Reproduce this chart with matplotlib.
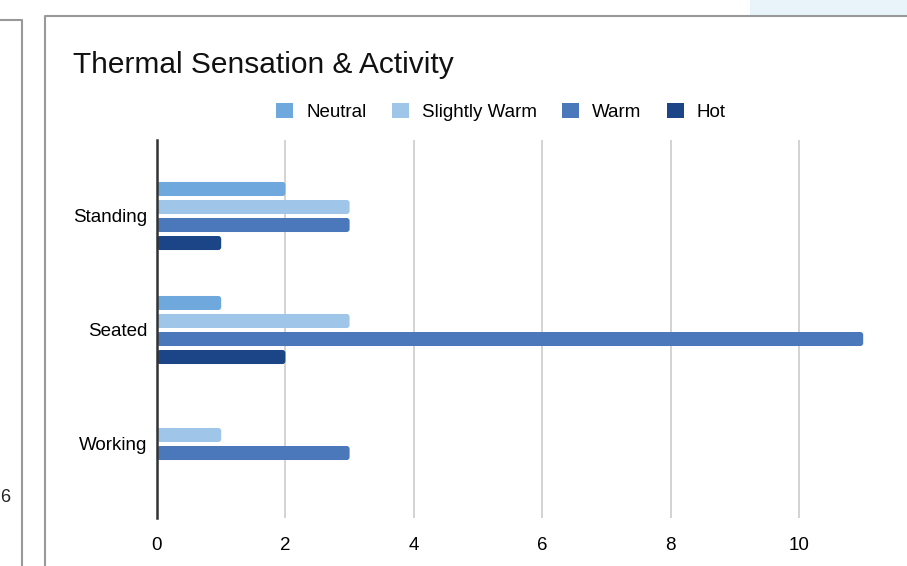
import matplotlib.pyplot as plt
from matplotlib.patches import Patch, Rectangle, FancyBboxPatch
from matplotlib.lines import Line2D
import numpy as np

plt.rcParams['font.family'] = ['Liberation Sans', 'DejaVu Sans']

activities = ['Standing', 'Seated', 'Working']
series = ['Neutral', 'Slightly Warm', 'Warm', 'Hot']
neutral = [2, 1, 0]
slightly_warm = [3, 3, 1]
warm = [3, 11, 3]
hot = [1, 2, 0]
x_ticks = [0, 2, 4, 6, 8, 10]

colors = ['#6fa8dc', '#9fc5e8', '#4a78bb', '#1c4587']

W, H = 907, 566
fig = plt.figure(figsize=(W / 100, H / 100), dpi=100)

def fx(px):
    return px / W

def fy(py):
    return 1 - py / H

# page chrome around the chart (cropped screenshot)
fig.add_artist(Rectangle((fx(750), fy(15)), fx(157), 15 / H, color='#e8f4fa', lw=0))
fig.add_artist(Line2D([fx(0), fx(22), fx(22)], [fy(20), fy(20), fy(566)], color='#999999', lw=1.5))
fig.add_artist(Line2D([fx(45), fx(45), fx(907)], [fy(566), fy(16), fy(16)], color='#999999', lw=1.5))
fig.text(fx(0), fy(497), '6', fontsize=13, ha='left', va='center', color='#222222')

ax = fig.add_axes([fx(157), fy(518), fx(880 - 157), (518 - 140) / H])

y = np.arange(len(activities))
pitch = 0.158
height = 0.123
for i, (name, vals) in enumerate(zip(series, [neutral, slightly_warm, warm, hot])):
    bars = ax.barh(y + (i - 1.5) * pitch, vals, height=height, color=colors[i], label=name, zorder=3)
    # swap plain rectangles for slightly rounded ones
    for b in bars:
        if b.get_width() == 0:
            b.remove()
            continue
        rb = FancyBboxPatch((b.get_x(), b.get_y()), b.get_width(), b.get_height(),
                            boxstyle='round,pad=0,rounding_size=0.045',
                            mutation_aspect=0.58, facecolor=colors[i], edgecolor='none', zorder=3)
        b.remove()
        ax.add_patch(rb)

ax.set_xlim(0, (880 - 157) / 64.2)
ax.set_ylim(2 + 74 / 114, -76 / 114)
ax.set_xticks(x_ticks)
ax.set_xticklabels([str(t) for t in x_ticks], fontsize=13.5)
ax.set_yticks(y)
ax.set_yticklabels(activities, fontsize=13.5)
ax.tick_params(length=0)
ax.tick_params(axis='y', pad=7)
ax.tick_params(axis='x', pad=14)
ax.grid(axis='x', color='#cccccc', lw=1.2, zorder=0)
for s in ['top', 'right', 'bottom']:
    ax.spines[s].set_visible(False)
ax.spines['left'].set_color('#333333')
ax.spines['left'].set_linewidth(1.8)
ax.spines['left'].set_zorder(4)

fig.text(fx(73), fy(65), 'Thermal Sensation & Activity', fontsize=21.5, ha='left', va='center', color='#111111')

handles = [Patch(facecolor=c, edgecolor='none') for c in colors]
fig.legend(handles, series, loc='center', bbox_to_anchor=(fx(501), fy(112)), ncol=4,
           frameon=False, fontsize=13.5, handlelength=0.9, handleheight=0.9,
           handletextpad=0.7, columnspacing=1.35)

plt.savefig('out.png', dpi=100)
